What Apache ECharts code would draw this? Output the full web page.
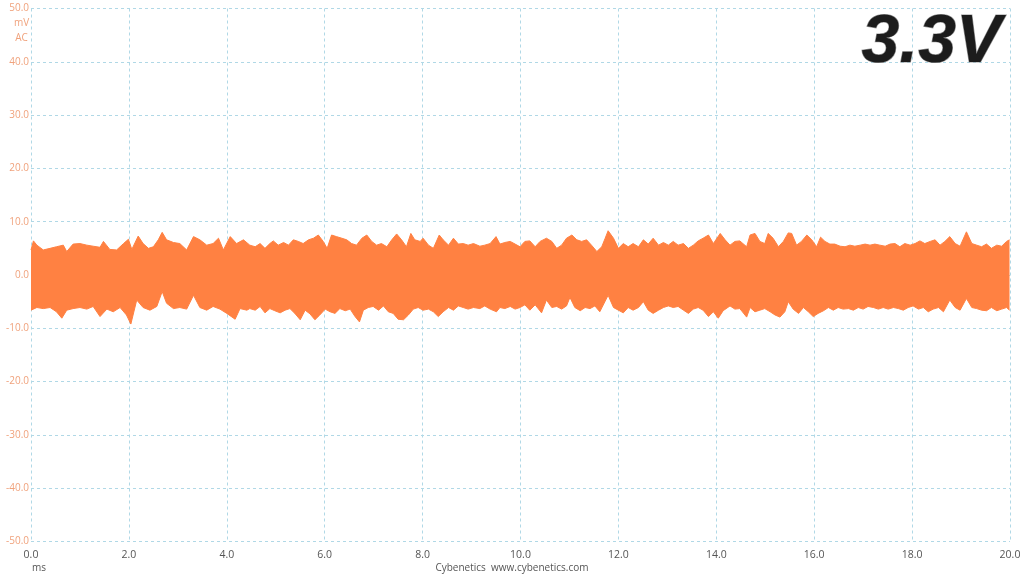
<!DOCTYPE html>
<html>
<head>
<meta charset="utf-8">
<script src="https://cdn.jsdelivr.net/npm/echarts@6/dist/echarts.min.js"></script>
<style>html,body{margin:0;padding:0;background:#fff;}#c{width:1024px;height:576px;}</style>
</head>
<body>
<div id="c"></div>
<script>
// Time axis (ms) and voltage axis (mV)
var xMin = 0, xMax = 20, xStep = 2;
var yMin = -50, yMax = 50, yStep = 10;
var titleText = '3.3V';
var yUnitLines = ['mV', 'AC'];
var xUnit = 'ms';
var footer = 'Cybenetics  www.cybenetics.com';

// Upper envelope of the ripple band: [time ms, mV]
var upperEnvelope = [
[0.00,4.7],[0.05,6.4],[0.12,5.6],[0.25,4.7],[0.39,5.0],[0.52,5.3],[0.66,5.6],[0.73,4.4],[0.86,5.8],[1.00,5.9],[1.14,5.6],[1.27,5.4],[1.41,5.2],[1.48,6.3],[1.61,4.8],[1.75,4.7],[1.89,5.9],[1.99,6.7],[2.06,4.8],[2.19,7.3],[2.29,5.9],[2.40,5.0],[2.50,5.3],[2.60,6.6],[2.68,8.0],[2.77,6.6],[2.91,6.1],[3.04,5.9],[3.18,4.7],[3.32,7.2],[3.45,6.6],[3.59,5.6],[3.72,5.9],[3.83,6.9],[3.93,4.7],[4.07,7.2],[4.20,5.9],[4.34,6.6],
[4.47,5.6],[4.58,5.3],[4.68,5.9],[4.78,5.0],[4.88,5.9],[4.95,6.4],[5.05,5.6],[5.16,6.1],[5.26,5.6],[5.36,6.6],[5.46,6.3],[5.56,5.9],[5.67,6.6],[5.77,6.9],[5.87,7.5],[5.97,6.3],[6.05,5.0],[6.14,7.5],[6.24,7.2],[6.35,6.9],[6.45,6.6],[6.55,5.9],[6.65,5.6],[6.76,6.9],[6.86,7.5],[6.96,6.3],[7.06,5.6],[7.16,5.9],[7.27,5.3],[7.37,6.6],[7.47,7.7],[7.57,6.6],[7.67,5.3],[7.76,7.8],[7.84,6.6],[7.95,6.3],[8.01,6.9],[8.12,5.6],[8.22,5.0],[8.34,7.5],[8.42,6.6],[8.53,5.6],[8.63,6.9],[8.73,5.8],[8.83,5.9],[8.93,5.6],[9.04,5.9],[9.17,5.4],[9.27,5.6],[9.38,5.9],[9.50,7.2],
[9.58,5.8],[9.68,6.1],[9.79,6.3],[9.89,5.8],[9.99,5.3],[10.09,6.3],[10.19,6.4],[10.30,5.3],[10.40,6.3],[10.53,6.9],[10.64,6.3],[10.74,5.0],[10.84,5.6],[10.94,6.9],[11.05,7.5],[11.15,6.6],[11.25,6.3],[11.35,6.6],[11.45,5.6],[11.56,4.4],[11.66,5.3],[11.73,6.9],[11.79,8.3],[11.90,6.9],[12.00,5.0],[12.10,5.9],[12.20,5.3],[12.30,5.9],[12.41,5.3],[12.51,6.6],[12.61,5.8],[12.71,6.9],[12.82,5.6],[12.92,6.1],[13.02,5.6],[13.12,6.3],[13.22,5.6],[13.33,5.9],[13.43,5.0],[13.53,5.6],[13.63,6.4],[13.73,6.9],[13.84,7.5],[13.94,5.9],[14.08,7.8],[14.18,6.6],[14.28,5.6],[14.38,6.3],[14.48,6.4],[14.62,5.3],
[14.69,7.5],[14.79,7.8],[14.89,6.3],[14.99,5.9],[15.06,7.8],[15.16,6.9],[15.27,5.3],[15.37,6.3],[15.47,7.9],[15.54,7.8],[15.64,5.6],[15.74,6.3],[15.85,7.5],[15.95,6.6],[16.05,5.3],[16.13,7.1],[16.22,6.3],[16.32,5.8],[16.42,5.8],[16.53,5.4],[16.63,5.3],[16.73,5.6],[16.83,5.4],[16.94,5.6],[17.04,5.8],[17.14,5.6],[17.24,5.8],[17.34,5.6],[17.45,5.4],[17.55,5.8],[17.65,5.9],[17.75,5.3],[17.85,5.9],[17.96,5.6],[18.06,5.9],[18.16,6.4],[18.26,5.9],[18.37,6.3],[18.47,6.6],[18.57,5.6],[18.67,6.3],[18.77,7.2],[18.88,5.9],[18.98,5.4],[19.11,8.1],[19.22,5.9],[19.32,5.6],[19.42,5.3],[19.52,5.8],[19.62,5.0],[19.73,5.6],[19.83,5.4],[19.93,6.3],[19.99,6.6]
];

// Lower envelope of the ripple band: [time ms, mV]
var lowerEnvelope = [
[0.00,-6.6],[0.12,-6.1],[0.25,-6.3],[0.39,-6.1],[0.52,-6.9],[0.63,-8.1],[0.73,-6.6],[0.86,-6.3],[1.00,-6.1],[1.14,-6.4],[1.27,-5.9],[1.41,-7.8],[1.55,-6.4],[1.68,-6.9],[1.82,-6.1],[1.95,-7.5],[2.04,-9.2],[2.16,-4.7],[2.29,-6.1],[2.43,-6.6],[2.57,-5.9],[2.68,-3.1],[2.77,-5.3],[2.91,-6.3],[3.04,-6.1],[3.18,-6.4],[3.32,-3.8],[3.45,-6.1],[3.59,-6.6],[3.72,-5.9],[3.86,-6.4],[4.00,-7.2],[4.17,-8.3],[4.27,-6.3],[4.41,-6.6],
[4.47,-6.3],[4.58,-6.6],[4.68,-5.9],[4.78,-7.1],[4.88,-6.3],[4.98,-6.7],[5.09,-7.1],[5.19,-6.6],[5.29,-6.3],[5.39,-7.2],[5.50,-8.4],[5.60,-6.6],[5.70,-7.3],[5.80,-8.4],[5.90,-7.5],[6.01,-6.4],[6.11,-6.9],[6.21,-7.2],[6.31,-6.3],[6.42,-6.7],[6.52,-6.4],[6.62,-7.8],[6.71,-8.8],[6.79,-6.6],[6.89,-6.1],[6.99,-5.9],[7.10,-6.6],[7.20,-5.8],[7.30,-6.9],[7.40,-7.2],[7.50,-8.3],[7.61,-8.4],[7.71,-7.5],[7.81,-6.4],[7.91,-6.1],[8.01,-6.6],[8.12,-6.4],[8.22,-6.9],[8.32,-7.8],[8.42,-6.9],[8.53,-6.1],[8.63,-6.6],[8.73,-5.8],[8.83,-6.1],[8.93,-6.4],[9.04,-6.1],[9.17,-6.3],[9.27,-5.8],[9.38,-6.4],[9.51,-6.9],
[9.58,-6.1],[9.68,-6.3],[9.79,-5.9],[9.89,-6.4],[9.99,-6.1],[10.09,-5.6],[10.19,-6.6],[10.30,-5.6],[10.43,-7.1],[10.53,-4.7],[10.64,-6.1],[10.74,-5.9],[10.84,-6.4],[10.94,-5.8],[11.01,-4.2],[11.11,-6.1],[11.22,-6.7],[11.32,-6.1],[11.42,-6.3],[11.52,-5.8],[11.62,-6.9],[11.79,-3.8],[11.90,-6.1],[12.00,-6.6],[12.10,-7.1],[12.20,-6.1],[12.30,-6.6],[12.41,-6.1],[12.51,-5.0],[12.61,-6.6],[12.71,-7.2],[12.82,-6.6],[12.92,-6.1],[13.02,-5.8],[13.12,-6.1],[13.22,-5.9],[13.33,-6.6],[13.43,-7.2],[13.53,-6.4],[13.63,-6.1],[13.73,-6.6],[13.84,-7.8],[13.94,-6.9],[14.04,-8.1],[14.14,-6.7],[14.28,-5.8],[14.38,-6.4],[14.48,-6.3],[14.62,-7.9],
[14.69,-6.1],[14.79,-6.9],[14.89,-6.6],[14.99,-6.3],[15.10,-6.9],[15.20,-7.5],[15.30,-7.9],[15.40,-6.9],[15.47,-5.0],[15.57,-6.4],[15.68,-7.2],[15.78,-6.1],[15.88,-6.9],[15.98,-7.8],[16.08,-7.2],[16.19,-6.7],[16.29,-6.1],[16.39,-6.6],[16.49,-6.1],[16.59,-6.4],[16.70,-6.3],[16.80,-6.6],[16.90,-6.1],[17.00,-6.4],[17.10,-5.9],[17.21,-6.1],[17.31,-6.4],[17.41,-6.1],[17.51,-6.4],[17.62,-6.1],[17.72,-6.3],[17.82,-6.6],[17.92,-6.1],[18.02,-5.8],[18.13,-6.4],[18.23,-6.1],[18.33,-6.9],[18.43,-6.4],[18.54,-6.1],[18.64,-6.9],[18.77,-4.7],[18.88,-6.1],[18.98,-6.6],[19.11,-4.4],[19.22,-6.1],[19.32,-6.3],[19.42,-6.6],[19.52,-6.7],[19.62,-6.1],[19.73,-6.7],[19.83,-6.4],[19.93,-6.1],[19.99,-6.6]
];

var bandColor = '#ff8142';
var gridColor = '#b0d8e6';
var yLabelColor = '#f0a27c';
var xLabelColor = '#555555';
var fontFam = '"Open Sans", "Noto Sans", sans-serif';

var chart = echarts.init(document.getElementById('c'), null, {renderer: 'canvas'});
var option = {
  animation: false,
  backgroundColor: '#ffffff',
  grid: {left: 31, right: 14, top: 8.5, bottom: 34.5, containLabel: false},
  xAxis: {
    type: 'value', min: xMin, max: xMax, interval: xStep,
    axisLine: {show: false}, axisTick: {show: false},
    axisLabel: {color: xLabelColor, fontSize: 10.5, fontFamily: fontFam, margin: 8,
      formatter: function (v) { return v.toFixed(1); }},
    splitLine: {show: true, lineStyle: {color: gridColor, type: [3, 3], width: 1}}
  },
  yAxis: {
    type: 'value', min: yMin, max: yMax, interval: yStep,
    axisLine: {show: false}, axisTick: {show: false},
    axisLabel: {color: yLabelColor, fontSize: 10, fontFamily: fontFam, margin: 2,
      formatter: function (v) { return v.toFixed(1); }},
    splitLine: {show: true, lineStyle: {color: gridColor, type: [3, 3], width: 1}}
  },
  series: [
    {type: 'line', data: upperEnvelope, showSymbol: false, symbol: 'none',
     lineStyle: {color: bandColor, width: 1}, areaStyle: {color: bandColor, opacity: 1, origin: 0}, z: 3},
    {type: 'line', data: lowerEnvelope, showSymbol: false, symbol: 'none',
     lineStyle: {color: bandColor, width: 1}, areaStyle: {color: bandColor, opacity: 1, origin: 0}, z: 3}
  ],
  graphic: [
    {type: 'text', left: 14, top: 16, style: {text: yUnitLines.join('\n'), fill: yLabelColor, font: '10px ' + fontFam, lineHeight: 15, textAlign: 'center'}},
    {type: 'text', left: 32, top: 563, style: {text: xUnit, fill: xLabelColor, font: '10px ' + fontFam}},
    {type: 'text', left: 'center', top: 563, style: {text: footer, fill: xLabelColor, font: '10px ' + fontFam}},
    {type: 'text', right: 22, top: 9, z: 10, style: {
      text: titleText,
      font: 'italic bold 68px "Liberation Sans", Arial, sans-serif',
      fill: '#1c1c1c',
      stroke: '#9a9a9a', lineWidth: 1.2,
      shadowBlur: 4, shadowColor: 'rgba(0,0,0,0.35)', shadowOffsetX: 2, shadowOffsetY: 2
    }}
  ]
};
chart.setOption(option);
</script>
</body>
</html>
